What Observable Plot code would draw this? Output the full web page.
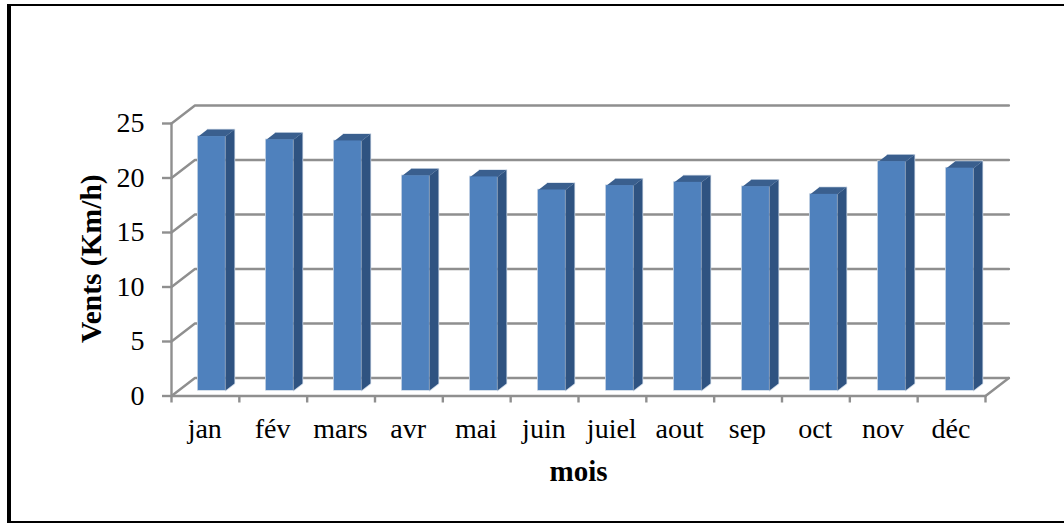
<!DOCTYPE html>
<html><head><meta charset="utf-8">
<script src="https://cdn.jsdelivr.net/npm/d3@7"></script>
<script src="https://cdn.jsdelivr.net/npm/@observablehq/plot@0.6"></script>
<style>
html,body{margin:0;padding:0;background:#fff}
#frame{position:absolute;left:7px;top:4px;width:1057px;height:519px;box-sizing:border-box;border-left:4px solid #000;border-top:2px solid #000;border-bottom:2px solid #000}
#chart{position:absolute;left:0;top:0}
</style></head><body>
<div id="frame"></div><div id="chart"></div>
<script>
const months = ["jan","fév","mars","avr","mai","juin","juiel","aout","sep","oct","nov","déc"];
const winds = [23.3,23.0,22.9,19.7,19.6,18.4,18.8,19.1,18.7,18.0,21.0,20.4];
const yTicks = [0,5,10,15,20,25];
const xEdges = [0,1,2,3,4,5,6,7,8,9,10,11,12];

// oblique projection of the 3D wall, expressed in data units
const wallX = 0.345, wallY = 1.65;
const barW = 0.40, sideX = 0.133, sideY = 0.64, baseX = 0.095, baseY = 0.5, step = 1.0025;
const rows = months.map((m,i)=>{
  const c = 0.5 + baseX + i*step;
  return {m, i, x1:c-barW/2, x2:c+barW/2, y1:baseY, y2:baseY+winds[i]};
});
const side = rows.flatMap(r=>[
  {z:r.m,x:r.x2,y:r.y1},{z:r.m,x:r.x2+sideX,y:r.y1+sideY},
  {z:r.m,x:r.x2+sideX,y:r.y2+sideY},{z:r.m,x:r.x2,y:r.y2}]);
const top_ = rows.flatMap(r=>[
  {z:r.m,x:r.x1,y:r.y2},{z:r.m,x:r.x2,y:r.y2},
  {z:r.m,x:r.x2+sideX,y:r.y2+sideY},{z:r.m,x:r.x1+sideX,y:r.y2+sideY}]);
const wall = yTicks.flatMap(t=>[
  {z:t,x:0,y:t},{z:t,x:wallX,y:t+wallY},{z:t,x:12+wallX,y:t+wallY}]);
const labelRows = months.map((m,i)=>({m,x:i+0.49,y:0}));
const gridColor = "#8f8f8f";
const halo = "#d3dde9";
const gw = 2.4;

const plot = Plot.plot({
  width:1064, height:523,
  marginLeft:171, marginRight:79, marginTop:123, marginBottom:127.5,
  style:{fontFamily:"'Liberation Serif',serif",background:"transparent",overflow:"visible"},
  x:{type:"linear",domain:[0,12],axis:null},
  y:{type:"linear",domain:[0,25],axis:null},
  marks:[
    Plot.line(wall,{x:"x",y:"y",z:"z",stroke:gridColor,strokeWidth:gw}),
    Plot.line([{x:12,y:0},{x:12+wallX,y:wallY}],{x:"x",y:"y",stroke:gridColor,strokeWidth:gw}),
    Plot.line([{x:0,y:0},{x:0,y:25}],{x:"x",y:"y",stroke:gridColor,strokeWidth:gw}),
    Plot.line([{x:0,y:0},{x:12,y:0}],{x:"x",y:"y",stroke:gridColor,strokeWidth:gw}),
    Plot.axisY({ticks:yTicks,tickSize:9,tickPadding:18,stroke:gridColor,strokeWidth:gw,fill:"#000",fontSize:28,label:null,tickFormat:d=>d}),
    Plot.axisX({ticks:xEdges,tickSize:7,stroke:gridColor,strokeWidth:gw,tickFormat:()=>"",label:null}),
    Plot.text(labelRows,{x:"x",y:"y",dy:33.5,text:"m",fontSize:28,fill:"#000",textAnchor:"middle"}),
    // soft light edge around the bars
    Plot.line(side,{x:"x",y:"y",z:"z",stroke:halo,strokeWidth:1.5}),
    Plot.line(top_,{x:"x",y:"y",z:"z",stroke:halo,strokeWidth:1.5}),
    Plot.rectY(rows,{x1:"x1",x2:"x2",y1:"y1",y2:"y2",stroke:halo,strokeWidth:1.5,fill:"none"}),
    Plot.line(side,{x:"x",y:"y",z:"z",fill:"#2f5381"}),
    Plot.line(top_,{x:"x",y:"y",z:"z",fill:"#3a5f8e"}),
    Plot.rectY(rows,{x1:"x1",x2:"x2",y1:"y1",y2:"y2",fill:"#4f81bd"}),
    Plot.text([{t:"mois",x:6,y:0}],{x:"x",y:"y",dy:75.5,text:"t",fontSize:29,fontWeight:"bold",fill:"#000",textAnchor:"middle"}),
    Plot.text([{t:"Vents (Km/h)",x:0,y:12.6}],{x:"x",y:"y",dx:-79.5,text:"t",rotate:-90,fontSize:29.5,fontWeight:"bold",fill:"#000",textAnchor:"middle"})
  ]
});
document.getElementById("chart").append(plot);
</script>
</body></html>
